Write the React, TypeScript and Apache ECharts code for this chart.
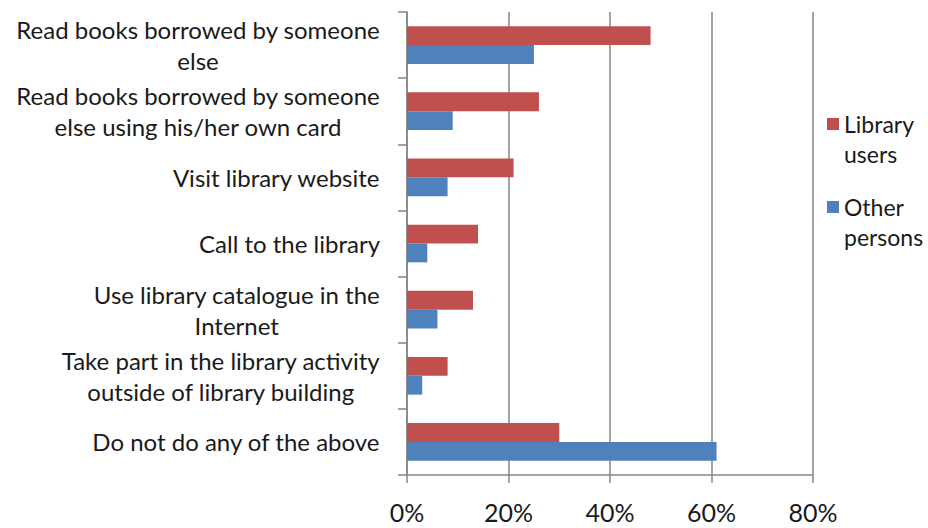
import React, { useEffect, useRef } from "react";
import * as echarts from "echarts";

const categories: string[][] = [
  ["Read books borrowed by someone", "else"],
  ["Read books borrowed by someone", "else using his/her own card"],
  ["Visit library website"],
  ["Call to the library"],
  ["Use library catalogue in the", "Internet"],
  ["Take part in the library activity", "outside of library building"],
  ["Do not do any of the above"],
];
const libraryUsers = [48, 26, 21, 14, 13, 8, 30];
const otherPersons = [25, 9, 8, 4, 6, 3, 61];
const seriesNames = ["Library users", "Other persons"];
const legendLines: Record<string, string> = {
  "Library users": "\nLibrary\nusers",
  "Other persons": "\nOther\npersons",
};
const xTicks = [0, 20, 40, 60, 80];

const FONT = "Lato";
const TEXT = "#1a1a1a";
const GRAY = "#868686";

export default function App() {
  const ref = useRef<HTMLDivElement>(null);
  useEffect(() => {
    if (!ref.current) return;
    const chart = echarts.init(ref.current, undefined, { renderer: "svg" });
    const catKeys = categories.map((c) => c.join(" "));
    const legendText = { fontFamily: FONT, fontSize: 23, color: TEXT, lineHeight: 30 };
    chart.setOption({
      animation: false,
      backgroundColor: "#fff",
      textStyle: { fontFamily: FONT },
      grid: { left: 407, right: 115, top: 12, bottom: 53, containLabel: false },
      legend: [
        {
          data: [seriesNames[0]],
          orient: "vertical",
          left: 822,
          top: 74,
          icon: "rect",
          itemWidth: 12,
          itemHeight: 12,
          formatter: (n: string) => legendLines[n],
          textStyle: legendText,
          selectedMode: false,
        },
        {
          data: [seriesNames[1]],
          orient: "vertical",
          left: 822,
          top: 157,
          icon: "rect",
          itemWidth: 12,
          itemHeight: 12,
          formatter: (n: string) => legendLines[n],
          textStyle: legendText,
          selectedMode: false,
        },
      ],
      xAxis: {
        type: "value",
        min: xTicks[0],
        max: xTicks[xTicks.length - 1],
        interval: 20,
        axisLine: { show: true, lineStyle: { color: GRAY, width: 1.5 } },
        axisTick: { show: true, length: 8, lineStyle: { color: GRAY, width: 1.5 } },
        splitLine: { show: true, lineStyle: { color: GRAY, width: 1.5 } },
        axisLabel: {
          formatter: (v: number) => v + "%",
          fontFamily: FONT,
          fontSize: 25,
          color: TEXT,
          margin: 24,
          lineHeight: 25,
        },
      },
      yAxis: {
        type: "category",
        inverse: true,
        data: catKeys,
        axisLine: { show: true, lineStyle: { color: GRAY, width: 1.5 } },
        axisTick: { show: true, length: 9, lineStyle: { color: GRAY, width: 1.5 } },
        axisLabel: {
          margin: 27,
          align: "right",
          formatter: (v: string) => {
            const idx = catKeys.indexOf(v);
            return categories[idx].map((l) => "{c|" + l + "}").join("\n");
          },
          rich: {
            c: { align: "center", fontFamily: FONT, fontSize: 24, color: TEXT, lineHeight: 31 },
          },
        },
      },
      series: [
        {
          name: seriesNames[0],
          type: "bar",
          data: libraryUsers,
          itemStyle: { color: "#C0504D" },
          barGap: "0%",
          barCategoryGap: "43%",
        },
        {
          name: seriesNames[1],
          type: "bar",
          data: otherPersons,
          itemStyle: { color: "#4F81BD" },
          barGap: "0%",
          barCategoryGap: "43%",
        },
      ],
    });
    return () => chart.dispose();
  }, []);
  return <div ref={ref} style={{ width: 928, height: 528, position: "absolute", left: 0, top: 0 }} />;
}
